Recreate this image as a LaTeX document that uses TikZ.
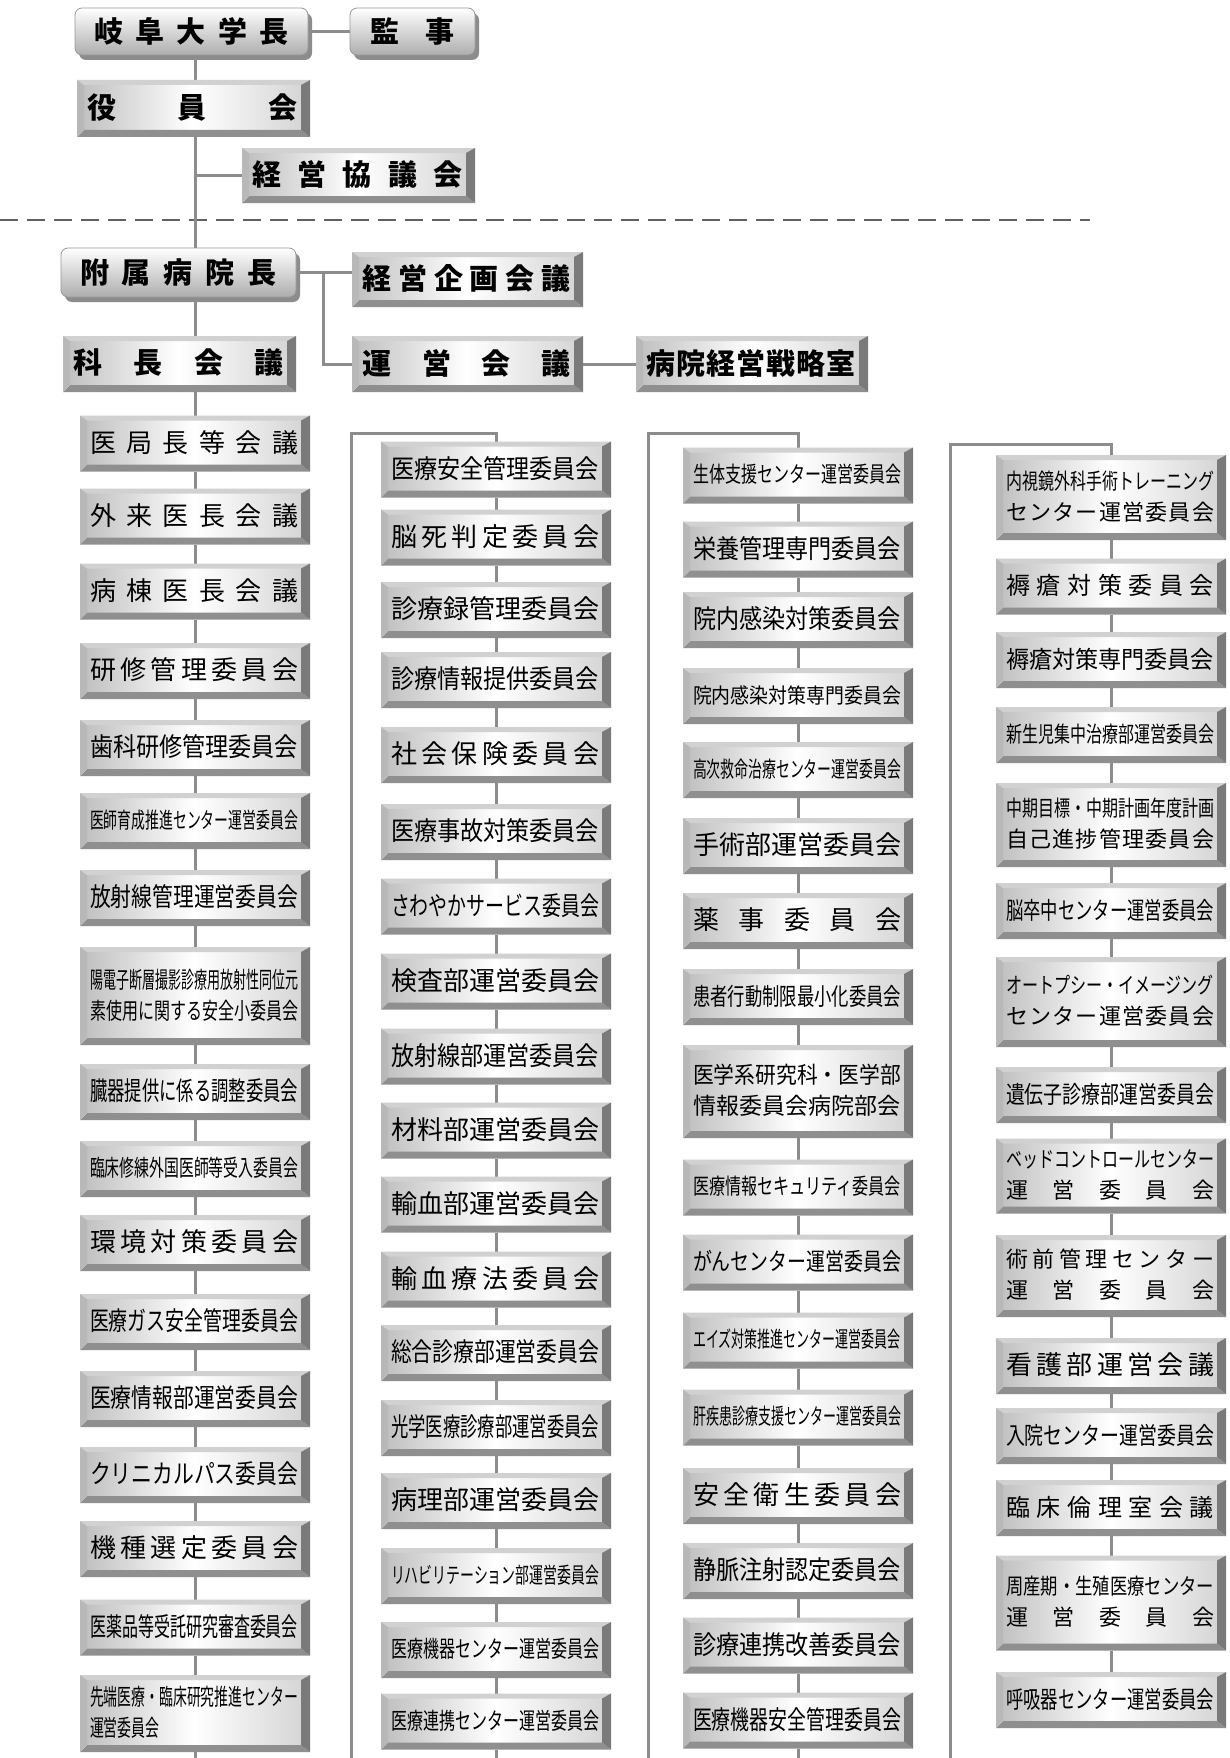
\documentclass[tikz,border=0pt]{standalone}
\usepackage{fontspec}
\usepackage{graphicx}
\newfontfamily\jp{Noto Sans CJK JP}
\usetikzlibrary{calc,backgrounds}
\definecolor{bvT}{gray}{0.82}
\definecolor{bvL}{gray}{0.72}
\definecolor{bvR}{gray}{0.48}
\definecolor{bvB}{gray}{0.56}
\definecolor{fcL}{gray}{0.76}
\definecolor{fcR}{gray}{0.84}
\definecolor{lnc}{gray}{0.55}
\definecolor{dsh}{gray}{0.38}
\makeatletter
\def\sprd#1{\sprd@a#1\relax}
\def\sprd@a#1{\ifx\relax#1\else#1\expandafter\sprd@b\fi}
\def\sprd@b#1{\ifx\relax#1\else\hfill#1\expandafter\sprd@b\fi}
\makeatother
\newlength\fitW
\newcommand\fitline[2]{%
  \settowidth\fitW{#2}%
  \ifdim\fitW>#1pt\relax
    \pgfmathsetmacro\fitr{#1/\fitW}%
    \scalebox{\fitr}[1]{#2}%
  \else
    \makebox[#1pt][s]{\sprd{#2}}%
  \fi}
\newcommand\fitlineL[3]{%
  \settowidth\fitW{#2}\pgfmathsetmacro\fitr{#1/\fitW}%
  \makebox[#1pt][l]{\scalebox{\fitr}[1]{#3}}}
\newcommand\tw{208}
\newcommand\one[1]{\fitline{\tw}{#1}}
\newcommand\two[2]{\fitline{\tw}{#1}\\\fitline{\tw}{#2}}
\tikzset{
  geom/.style={inner sep=0pt, outer sep=0pt, draw=none},
  ctext/.style={inner sep=0pt, align=center},
  btext/.style={inner sep=0pt, align=center, font=\jp\bfseries\fontsize{29}{32}\selectfont},
  conn/.style={draw=lnc, line width=3pt},
  dashline/.style={draw=dsh, line width=2.2pt, dash pattern=on 18pt off 9pt},
}
% bevelled box: name, cx, cy, w, h
\newcommand\bevel[5]{%
  \node[geom, minimum width=#4pt, minimum height=#5pt] (#1) at (#2,#3) {};
  \shade[left color=fcL, right color=fcR, middle color=white] ($(#1.north west)+(7,5)$) rectangle ($(#1.south east)+(-9,-7)$);
  \fill[bvT] (#1.north west) -- (#1.north east) -- ($(#1.north east)+(-9,5)$) -- ($(#1.north west)+(7,5)$) -- cycle;
  \fill[bvB] (#1.south west) -- (#1.south east) -- ($(#1.south east)+(-9,-7)$) -- ($(#1.south west)+(7,-7)$) -- cycle;
  \fill[bvL] (#1.north west) -- ($(#1.north west)+(7,5)$) -- ($(#1.south west)+(7,-7)$) -- (#1.south west) -- cycle;
  \fill[bvR] (#1.north east) -- ($(#1.north east)+(-9,5)$) -- ($(#1.south east)+(-9,-7)$) -- (#1.south east) -- cycle;
}
% rounded box with shadow: name, cx, cy, w, h
\newcommand\rbox[5]{%
  \node[geom, minimum width=#4pt, minimum height=#5pt] (#1) at (#2,#3) {};
  \fill[black!45, rounded corners=7pt] ($(#1.north west)+(4,5)$) rectangle ($(#1.south east)+(4,5)$);
  \shade[top color=white, bottom color=black!32, draw=black!40, line width=0.8pt, rounded corners=7pt] (#1.north west) rectangle (#1.south east);
}
\newcommand\cbtext[3]{\node[ctext, font=\jp\fontsize{#2}{31}\selectfont] (#1-t) at ($(#1.center)+(-1,-1)$) {#3};}
% committee box: [font size] name, cx, cy, h, content
\newcommand\cbx[6][26]{\bevel{#2}{#3}{#4}{230}{#5}\cbtext{#2}{#1}{#6}}
\begin{document}
\begin{tikzpicture}[x=1pt,y=-1pt]
\useasboundingbox (0,0) rectangle (1229,1758);
% ---------- top part
\rbox{gifu}{191.5}{31.5}{233}{47}
\node[btext] (gifu-t) at (gifu) {\fitline{195}{岐阜大学長}};
\rbox{kanji}{412.5}{31.5}{125}{47}
\node[btext] (kanji-t) at (kanji) {\fitline{84}{監事}};
\bevel{yakuin}{193.5}{108.5}{233}{57}
\node[btext] (yakuin-t) at ($(yakuin)+(-1,-1)$) {\fitline{210}{役員会}};
\bevel{keikyo}{358.5}{175.5}{233}{55}
\node[btext] (keikyo-t) at ($(keikyo)+(-1,-1)$) {\fitline{210}{経営協議会}};
\rbox{fuzoku}{178.5}{272.5}{235}{49}
\node[btext] (fuzoku-t) at (fuzoku) {\fitline{197}{附属病院長}};
\bevel{kikaku}{467.5}{279.5}{231}{55}
\node[btext] (kikaku-t) at ($(kikaku)+(-1,-1)$) {\fitline{208}{経営企画会議}};
\bevel{kacho}{179.5}{364}{233}{56}
\node[btext] (kacho-t) at ($(kacho)+(-1,-1)$) {\fitline{210}{科長会議}};
\bevel{unei}{467.5}{364}{231}{56}
\node[btext] (unei-t) at ($(unei)+(-1,-1)$) {\fitline{208}{運営会議}};
\bevel{senryaku}{752}{364}{232}{56}
\node[btext] (senryaku-t) at ($(senryaku)+(-1,-1)$) {\fitline{210}{病院経営戦略室}};
% ---------- column 1
\cbx{c1-1}{195}{443.5}{56}{\one{医局長等会議}}
\cbx{c1-2}{195}{516.5}{56}{\one{外来医長会議}}
\cbx{c1-3}{195}{591.5}{56}{\one{病棟医長会議}}
\cbx{c1-4}{195}{671}{56}{\one{研修管理委員会}}
\cbx{c1-5}{195}{748}{56}{\one{歯科研修管理委員会}}
\cbx[22]{c1-6}{195}{821}{56}{\one{医師育成推進センター運営委員会}}
\cbx{c1-7}{195}{898}{56}{\one{放射線管理運営委員会}}
\cbx[23]{c1-8}{195}{996}{98}{\two{陽電子断層撮影診療用放射性同位元}{素使用に関する安全小委員会}}
\cbx{c1-9}{195}{1092}{56}{\one{臓器提供に係る調整委員会}}
\cbx[23]{c1-10}{195}{1169}{56}{\one{臨床修練外国医師等受入委員会}}
\cbx{c1-11}{195}{1243}{56}{\one{環境対策委員会}}
\cbx{c1-12}{195}{1322}{56}{\one{医療ガス安全管理委員会}}
\cbx{c1-13}{195}{1399}{56}{\one{医療情報部運営委員会}}
\cbx{c1-14}{195}{1475}{56}{\one{クリニカルパス委員会}}
\cbx{c1-15}{195}{1549}{56}{\one{機種選定委員会}}
\cbx{c1-16}{195}{1627.5}{56}{\one{医薬品等受託研究審査委員会}}
\cbx[23]{c1-17}{195}{1713.5}{77}{\fitline{\tw}{先端医療・臨床研究推進センター}\\\fitlineL{\tw}{先端医療・臨床研究推進センター}{運営委員会}}
% ---------- column 2
\cbx{c2-1}{496}{469.5}{56}{\one{医療安全管理委員会}}
\cbx{c2-2}{496}{537.5}{56}{\one{脳死判定委員会}}
\cbx{c2-3}{496}{610}{56}{\one{診療録管理委員会}}
\cbx{c2-4}{496}{680}{56}{\one{診療情報提供委員会}}
\cbx{c2-5}{496}{755}{56}{\one{社会保険委員会}}
\cbx{c2-6}{496}{832}{56}{\one{医療事故対策委員会}}
\cbx{c2-7}{496}{906.5}{56}{\one{さわやかサービス委員会}}
\cbx{c2-8}{496}{981.5}{56}{\one{検査部運営委員会}}
\cbx{c2-9}{496}{1056.5}{56}{\one{放射線部運営委員会}}
\cbx{c2-10}{496}{1130.5}{56}{\one{材料部運営委員会}}
\cbx{c2-11}{496}{1204.5}{56}{\one{輸血部運営委員会}}
\cbx{c2-12}{496}{1279.5}{56}{\one{輸血療法委員会}}
\cbx{c2-13}{496}{1353}{56}{\one{総合診療部運営委員会}}
\cbx{c2-14}{496}{1428}{56}{\one{光学医療診療部運営委員会}}
\cbx{c2-15}{496}{1501}{56}{\one{病理部運営委員会}}
\cbx[22]{c2-16}{496}{1576}{56}{\one{リハビリテーション部運営委員会}}
\cbx[23]{c2-17}{496}{1650}{56}{\one{医療機器センター運営委員会}}
\cbx[23]{c2-18}{496}{1721.5}{56}{\one{医療連携センター運営委員会}}
% ---------- column 3
\cbx[22]{c3-1}{798}{475.5}{56}{\one{生体支援センター運営委員会}}
\cbx{c3-2}{798}{549.5}{56}{\one{栄養管理専門委員会}}
\cbx{c3-3}{798}{620}{56}{\one{院内感染対策委員会}}
\cbx[21]{c3-4}{798}{696}{56}{\one{院内感染対策専門委員会}}
\cbx[22]{c3-5}{798}{770}{56}{\one{高次救命治療センター運営委員会}}
\cbx{c3-6}{798}{846}{56}{\one{手術部運営委員会}}
\cbx{c3-7}{798}{921}{56}{\one{薬事委員会}}
\cbx[24]{c3-8}{798}{997}{56}{\one{患者行動制限最小化委員会}}
\cbx[23]{c3-9}{798}{1091.5}{93}{\two{医学系研究科・医学部}{情報委員会病院部会}}
\cbx[22]{c3-10}{798}{1187.5}{56}{\one{医療情報セキュリティ委員会}}
\cbx[24]{c3-11}{798}{1262.5}{56}{\one{がんセンター運営委員会}}
\cbx[22]{c3-12}{798}{1340.5}{56}{\one{エイズ対策推進センター運営委員会}}
\cbx[22]{c3-13}{798}{1417.5}{56}{\one{肝疾患診療支援センター運営委員会}}
\cbx{c3-14}{798}{1496}{56}{\one{安全衛生委員会}}
\cbx{c3-15}{798}{1571}{56}{\one{静脈注射認定委員会}}
\cbx{c3-16}{798}{1645.5}{56}{\one{診療連携改善委員会}}
\cbx{c3-17}{798}{1720.5}{56}{\one{医療機器安全管理委員会}}
% ---------- column 4
\cbx[22]{c4-1}{1111}{497.5}{85}{\two{内視鏡外科手術トレーニング}{センター運営委員会}}
\cbx[24]{c4-2}{1111}{586.5}{56}{\one{褥瘡対策委員会}}
\cbx[24]{c4-3}{1111}{660}{56}{\one{褥瘡対策専門委員会}}
\cbx[22]{c4-4}{1111}{735}{56}{\one{新生児集中治療部運営委員会}}
\cbx[22]{c4-5}{1111}{825}{84}{\two{中期目標・中期計画年度計画}{自己進捗管理委員会}}
\cbx[24]{c4-6}{1111}{911}{56}{\one{脳卒中センター運営委員会}}
\cbx[22]{c4-7}{1111}{1002}{90}{\two{オートプシー・イメージング}{センター運営委員会}}
\cbx[24]{c4-8}{1111}{1095}{56}{\one{遺伝子診療部運営委員会}}
\cbx[22]{c4-9}{1111}{1176}{75}{\two{ベッドコントロールセンター}{運営委員会}}
\cbx[22]{c4-10}{1111}{1276}{82}{\two{術前管理センター}{運営委員会}}
\cbx{c4-11}{1111}{1366}{56}{\one{看護部運営会議}}
\cbx[24]{c4-12}{1111}{1436}{56}{\one{入院センター運営委員会}}
\cbx[24]{c4-13}{1111}{1508}{56}{\one{臨床倫理室会議}}
\cbx[22]{c4-14}{1111}{1603}{95}{\two{周産期・生殖医療センター}{運営委員会}}
\cbx[24]{c4-15}{1111}{1700}{56}{\one{呼吸器センター運営委員会}}
% ---------- connectors (behind)
\coordinate (spine) at (195,0);
\coordinate (dl) at (0,220);
\coordinate (dr) at (1090,220);
\coordinate (br) at (323,0);
\coordinate (b2top) at (351,433);
\coordinate (b2bot) at (351,1758);
\coordinate (b3top) at (648,433);
\coordinate (b3bot) at (648,1758);
\coordinate (b4top) at (950,444);
\coordinate (b4bot) at (950,1758);
\coordinate (c1end) at (195,1758);
\coordinate (c2end) at (496,1758);
\coordinate (c3end) at (798,1758);
\begin{scope}[on background layer]
\fill[white] (0,0) rectangle (1229,1758);
\draw[dashline] (dl) -- (dr);
\draw[conn] (gifu.east) -- (kanji.west);
\draw[conn] (gifu.south -| spine) -- (yakuin.north -| spine);
\draw[conn] (yakuin.south -| spine) -- (fuzoku.north -| spine);
\draw[conn] (keikyo.west) -- (keikyo.west -| spine);
\draw[conn] (fuzoku.south -| spine) -- (kacho.north -| spine);
\draw[conn] (kacho.south -| spine) -- (c1-1.north);
\draw[conn] (fuzoku.east) -- (fuzoku.east -| kikaku.west);
\draw[conn] (fuzoku.east -| br) |- (unei.west);
\draw[conn] (unei.east) -- (senryaku.west);
\foreach \i [evaluate=\i as \j using int(\i+1)] in {1,...,16} \draw[conn] (c1-\i.south) -- (c1-\j.north);
\foreach \i [evaluate=\i as \j using int(\i+1)] in {1,...,17} \draw[conn] (c2-\i.south) -- (c2-\j.north);
\foreach \i [evaluate=\i as \j using int(\i+1)] in {1,...,16} \draw[conn] (c3-\i.south) -- (c3-\j.north);
\foreach \i [evaluate=\i as \j using int(\i+1)] in {1,...,14} \draw[conn] (c4-\i.south) -- (c4-\j.north);
\draw[conn] (c1-17.south) -- (c1end);
\draw[conn] (c2-18.south) -- (c2end);
\draw[conn] (c3-17.south) -- (c3end);
\draw[conn] (b2bot) -- (b2top) -| (c2-1.north);
\draw[conn] (b3bot) -- (b3top) -| (c3-1.north);
\draw[conn] (b4bot) -- (b4top) -| (c4-1.north);
\end{scope}
\end{tikzpicture}
\end{document}
